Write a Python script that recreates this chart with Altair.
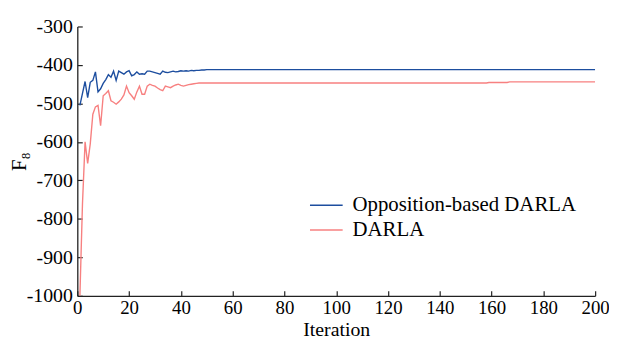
import altair as alt
import pandas as pd

# ---- data ----
series_names = ["Opposition-based DARLA", "DARLA"]

blue_iter = list(range(1, 51)) + [200]
blue_vals = [-505, -474, -443, -485, -445, -440, -418, -470, -462, -448,
             -438, -425, -432, -416, -440, -416, -420, -424, -418, -415,
             -428, -425, -418, -424, -423, -424, -416, -416, -418, -420,
             -422, -424, -416, -419, -420, -418, -416, -418, -417, -415,
             -416, -415, -416, -414, -415, -414, -414, -413, -413, -412,
             -412]

red_iter = list(range(1, 48)) + [158, 159, 166, 167, 200]
red_vals = [-1000, -760, -600, -656, -605, -528, -509, -505, -558, -480,
            -474, -467, -493, -497, -502, -496, -489, -478, -455, -472,
            -480, -489, -470, -455, -476, -476, -455, -450, -453, -455,
            -460, -464, -467, -455, -457, -459, -455, -452, -450, -453,
            -455, -453, -451, -450, -449, -448, -447,
            -447, -445.5, -445.5, -444, -444]

x_ticks = [0, 20, 40, 60, 80, 100, 120, 140, 160, 180, 200]
y_ticks = [-1000, -900, -800, -700, -600, -500, -400, -300]

colors = ["#1d4e9f", "#f78080"]

df = pd.concat([
    pd.DataFrame({"iter": blue_iter, "val": blue_vals, "series": series_names[0]}),
    pd.DataFrame({"iter": red_iter, "val": red_vals, "series": series_names[1]}),
])

FONT = "Liberation Serif"
W, H = 523, 272
LABEL_EXPR = "datum.value < 0 ? '-' + abs(datum.value) : '' + datum.value"

base = alt.Chart(df)

lines = base.mark_line(strokeWidth=1.4, clip=True).encode(
    x=alt.X("iter:Q",
            scale=alt.Scale(domain=[0, 200], nice=False, zero=False),
            axis=alt.Axis(values=x_ticks, tickSize=0, grid=False, title="Iteration",
                          labelExpr=LABEL_EXPR,
                          labelFont=FONT, labelFontSize=19, labelColor="black",
                          labelPadding=3, labelFlush=False,
                          titleFont=FONT, titleFontSize=20, titleFontWeight="normal",
                          titleColor="black", titleY=40.5, titleBaseline="alphabetic",
                          domainColor="#222222", domainWidth=1.3)),
    y=alt.Y("val:Q",
            scale=alt.Scale(domain=[-1000, -300], nice=False, zero=False),
            axis=alt.Axis(values=y_ticks, tickSize=0, grid=False, title="F₈",
                          labelExpr=LABEL_EXPR,
                          labelFont=FONT, labelFontSize=20, labelColor="black",
                          labelPadding=5,
                          titleFont=FONT, titleFontSize=21, titleFontWeight="normal",
                          titleColor="black", titleAngle=-90, titleX=-52, titleY=136,
                          titleBaseline="alphabetic",
                          domainColor="#222222", domainWidth=1.3)),
    color=alt.Color("series:N",
                    scale=alt.Scale(domain=series_names, range=colors),
                    legend=alt.Legend(title=None, orient="none", legendX=241, legendY=170,
                                      symbolType="M-3.3,0H3.3", symbolSize=100,
                                      symbolStrokeWidth=1.5, labelFont=FONT,
                                      labelFontSize=21, labelColor="black",
                                      labelOffset=16, rowPadding=3, padding=0,
                                      labelLimit=0)),
)

ticks_layer = base.mark_line(opacity=0).encode(
    x=alt.X("iter:Q",
            axis=alt.Axis(orient="top", offset=-H, values=x_ticks, labels=False,
                          domain=False, tickSize=5, tickColor="#222222", tickWidth=1.2,
                          title=None, grid=False)),
    y=alt.Y("val:Q",
            axis=alt.Axis(orient="right", offset=-W, values=y_ticks, labels=False,
                          domain=False, tickSize=5, tickColor="#222222", tickWidth=1.2,
                          title=None, grid=False)),
    detail="series:N",
)

chart = alt.layer(lines, ticks_layer).resolve_axis(
    x="independent", y="independent"
).properties(
    width=W, height=H,
    autosize=alt.AutoSizeParams(type="none"),
    padding={"left": 70, "top": 17, "right": 14, "bottom": 45},
).configure(
    font=FONT
).configure_view(stroke=None)

chart.save("out.html", embed_options={"renderer": "svg", "actions": False})
